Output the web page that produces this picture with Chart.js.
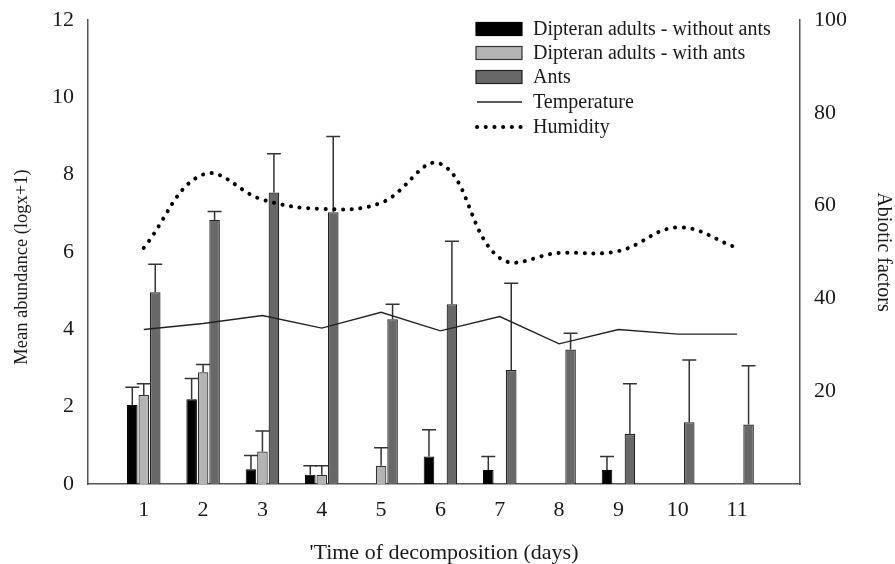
<!DOCTYPE html>
<html>
<head>
<meta charset="utf-8">
<script src="https://cdn.jsdelivr.net/npm/chart.js@4"></script>
<style>
  html, body { margin: 0; padding: 0; background: #fff; }
  #wrap { width: 895px; height: 564px; position: relative; }
</style>
</head>
<body>
<div id="wrap"><canvas id="decompChart"></canvas></div>
<script>
// Days of decomposition
const days = ['1', '2', '3', '4', '5', '6', '7', '8', '9', '10', '11'];

// Mean abundance (log x+1) and upper error
const withoutAnts    = [2.04, 2.19, 0.38, 0.24, null, 0.71, 0.36, null, 0.36, null, null];
const withoutAntsErr = [0.46, 0.54, 0.36, 0.23, 0, 0.69, 0.35, 0, 0.35, 0, 0];
const withAnts       = [2.30, 2.89, 0.84, 0.24, 0.47, null, null, null, null, null, null];
const withAntsErr    = [0.29, 0.20, 0.53, 0.23, 0.47, 0, 0, 0, 0, 0, 0];
const ants           = [4.96, 6.83, 7.54, 7.03, 4.26, 4.65, 2.95, 3.48, 1.29, 1.60, 1.54];
const antsErr        = [0.72, 0.22, 1.00, 1.96, 0.39, 1.63, 2.24, 0.42, 1.30, 1.61, 1.52];

// Abiotic factors (right axis)
const temperature = [33.3, 34.6, 36.3, 33.6, 37.0, 33.0, 36.1, 30.2, 33.3, 32.3, 32.3];
const humidity    = [50.9, 66.7, 61.3, 59.3, 60.6, 69.0, 48.7, 49.8, 50.2, 55.3, 50.9];

// axis ticks
const leftTicks = { min: 0, max: 12, step: 2 };
const rightTicks = { min: 0, max: 100, step: 20 };

const SERIF = '"Liberation Serif", "DejaVu Serif", serif';
const INK = '#1a1a1a';
const LEFT_TITLE = 'Mean abundance (logx+1)';

// upper error bars, drawn right after each bar dataset
const errorBars = {
    id: 'errorBars',
    afterDatasetDraw(chart, args) {
        const ds = chart.data.datasets[args.index];
        if (!ds.errors) return;
        const ctx = chart.ctx;
        const yScale = chart.scales.y;
        ctx.save();
        ctx.strokeStyle = '#333';
        ctx.lineWidth = 1.5;
        args.meta.data.forEach((bar, i) => {
            const v = ds.data[i];
            const e = ds.errors[i];
            if (v == null || !e) return;
            const top = yScale.getPixelForValue(v + e);
            ctx.beginPath();
            ctx.moveTo(bar.x, bar.y);
            ctx.lineTo(bar.x, top);
            ctx.moveTo(bar.x - 7, top);
            ctx.lineTo(bar.x + 7, top);
            ctx.stroke();
        });
        ctx.restore();
    }
};

// legend inside the plot area (top right) + left axis title
const insideLegend = {
    id: 'insideLegend',
    afterDraw(chart) {
        const ctx = chart.ctx;
        const x0 = 476, w = 46, tx = 533;
        const rows = [29, 53, 77, 102, 127];
        const ds = chart.data.datasets;
        const bars = ds.filter(d => d.type === 'bar');
        const lines = ds.filter(d => d.type === 'line');
        ctx.save();
        bars.forEach((d, i) => {
            ctx.fillStyle = d.backgroundColor;
            ctx.strokeStyle = d.borderColor;
            ctx.lineWidth = 1.2;
            ctx.fillRect(x0, rows[i] - 6.5, w, 13);
            ctx.strokeRect(x0, rows[i] - 6.5, w, 13);
        });
        lines.forEach((d, j) => {
            const y = rows[3 + j];
            ctx.beginPath();
            ctx.strokeStyle = d.borderColor;
            ctx.lineWidth = d.borderWidth;
            ctx.lineCap = d.borderCapStyle || 'butt';
            ctx.setLineDash(d.borderDash || []);
            ctx.moveTo(x0 + 1, y);
            ctx.lineTo(x0 + w, y);
            ctx.stroke();
            ctx.setLineDash([]);
        });
        ctx.fillStyle = INK;
        ctx.font = '20px ' + SERIF;
        ctx.textBaseline = 'middle';
        ctx.textAlign = 'left';
        bars.concat(lines).forEach((d, i) => {
            ctx.fillText(d.label, tx, rows[i] + 1);
        });

        // left title sits a bit below the middle in the original
        ctx.translate(22, 267);
        ctx.rotate(-Math.PI / 2);
        ctx.font = '18.5px ' + SERIF;
        ctx.textAlign = 'center';
        ctx.fillText(LEFT_TITLE, 0, 0);
        ctx.restore();
    }
};

const tickFont = { family: SERIF, size: 22 };

new Chart(document.getElementById('decompChart'), {
    data: {
        labels: days,
        datasets: [
            {
                type: 'bar',
                label: 'Dipteran adults - without ants',
                data: withoutAnts,
                errors: withoutAntsErr,
                backgroundColor: '#000000',
                borderColor: '#000000',
                borderWidth: 1,
                order: 2
            },
            {
                type: 'bar',
                label: 'Dipteran adults - with ants',
                data: withAnts,
                errors: withAntsErr,
                backgroundColor: '#b4b4b4',
                borderColor: '#333333',
                borderWidth: 1.2,
                order: 2
            },
            {
                type: 'bar',
                label: 'Ants',
                data: ants,
                errors: antsErr,
                backgroundColor: '#686868',
                borderColor: '#222222',
                borderWidth: 1.2,
                order: 2
            },
            {
                type: 'line',
                label: 'Temperature',
                data: temperature,
                yAxisID: 'y1',
                borderColor: '#222222',
                borderWidth: 1.4,
                pointRadius: 0,
                tension: 0,
                fill: false,
                order: 1
            },
            {
                type: 'line',
                label: 'Humidity',
                data: humidity,
                yAxisID: 'y1',
                borderColor: '#000000',
                borderWidth: 4,
                borderDash: [0.1, 8.6],
                borderCapStyle: 'round',
                pointRadius: 0,
                tension: 0.4,
                fill: false,
                order: 1
            }
        ]
    },
    options: {
        responsive: true,
        maintainAspectRatio: false,
        animation: false,
        layout: { padding: { top: 20, left: 0, right: 0, bottom: 0 } },
        plugins: {
            legend: { display: false },
            tooltip: { enabled: false }
        },
        datasets: {
            bar: { categoryPercentage: 0.58, barPercentage: 0.92, grouped: true }
        },
        scales: {
            x: {
                type: 'linear',
                min: 0.06,
                max: 12.06,
                offset: false,
                grid: { display: false },
                border: { display: true, color: '#555', width: 1.5 },
                afterBuildTicks: s => { s.ticks = days.map(d => ({ value: +d })); },
                ticks: { font: tickFont, color: INK, padding: 5, maxRotation: 0, autoSkip: false },
                title: {
                    display: true,
                    text: '\'Time of decomposition (days)',
                    font: { family: SERIF, size: 22, lineHeight: 1 },
                    color: INK,
                    padding: { top: 10, bottom: 0 }
                },
                afterFit: s => { s.height = 80; }
            },
            y: {
                position: 'left',
                min: leftTicks.min,
                max: leftTicks.max,
                grid: { display: false },
                border: { display: true, color: '#555', width: 1.5 },
                ticks: { stepSize: leftTicks.step, font: tickFont, color: INK, padding: 6 },
                afterFit: s => { s.width = 88; }
            },
            y1: {
                position: 'right',
                min: rightTicks.min,
                max: rightTicks.max,
                grid: { display: false },
                border: { display: true, color: '#555', width: 1.5 },
                ticks: {
                    stepSize: rightTicks.step,
                    font: tickFont,
                    color: INK,
                    padding: 6,
                    callback: v => (v === 0 ? '' : v)
                },
                title: {
                    display: true,
                    text: 'Abiotic factors',
                    font: { family: SERIF, size: 20 },
                    color: INK,
                    padding: { top: 0, bottom: 3 }
                },
                afterFit: s => { s.width = 95; }
            }
        }
    },
    plugins: [errorBars, insideLegend]
});
</script>
</body>
</html>
